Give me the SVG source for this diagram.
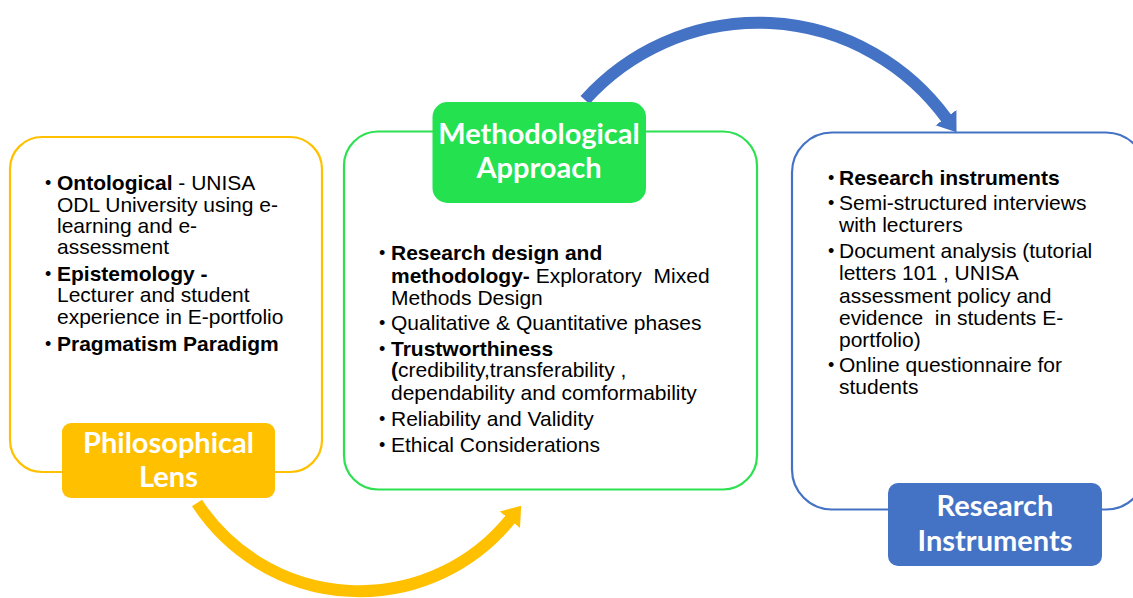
<svg xmlns="http://www.w3.org/2000/svg" width="1133" height="598" viewBox="0 0 1133 598">
<style>
  .body { font-family: "Liberation Sans", Arial, sans-serif; font-size: 21px; fill: #000; white-space: pre; }
  .bul { font-family: "Liberation Sans", Arial, sans-serif; font-size: 18px; fill: #000; }
  .b { font-weight: bold; }
  .lbl { font-family: Lato, "Open Sans", sans-serif; font-weight: bold; font-size: 29px; fill: #fff; text-anchor: middle; }
  .frame { fill: #fff; stroke-width: 2.2; }
  .arc { fill: none; stroke-width: 12; }
</style>
<defs>
  <marker id="headY" markerUnits="userSpaceOnUse" viewBox="0 -14 19 28" refX="1" refY="0" markerWidth="19" markerHeight="28" orient="auto">
    <path d="M0,-13 L18,0 L0,13 Z" fill="#FFC000"/>
  </marker>
  <marker id="headB" markerUnits="userSpaceOnUse" viewBox="0 -14 19 28" refX="1" refY="0" markerWidth="19" markerHeight="28" orient="auto">
    <path d="M0,-13 L18,0 L0,13 Z" fill="#4472C4"/>
  </marker>
</defs>
<rect width="1133" height="598" fill="#fff"/>

<g id="connectors">
  <path class="arc" stroke="#FFC000" d="M197,503 A194,194 0 0 0 510.5,519" marker-end="url(#headY)"/>
  <path class="arc" stroke="#4472C4" d="M585,100 A233,233 0 0 1 946.5,118.5" marker-end="url(#headB)"/>
</g>

<g id="philosophical-lens">
  <rect class="frame" x="10" y="137" width="312" height="335" rx="32" stroke="#FFC000"/>
  <text class="bul" x="45" y="189">•</text>
  <text class="body" x="57" y="190"><tspan class="b">Ontological</tspan> - UNISA</text>
  <text class="body" x="57" y="211.5">ODL University using e-</text>
  <text class="body" x="57" y="233">learning and e-</text>
  <text class="body" x="57" y="254">assessment</text>
  <text class="bul" x="45" y="279.5">•</text>
  <text class="body b" x="57" y="280.5">Epistemology -</text>
  <text class="body" x="57" y="302">Lecturer and student</text>
  <text class="body" x="57" y="324">experience in E-portfolio</text>
  <text class="bul" x="45" y="349.5">•</text>
  <text class="body b" x="57" y="350.5">Pragmatism Paradigm</text>
  <rect x="62" y="423" width="213" height="75" rx="9" fill="#FFC000"/>
  <text class="lbl" x="168.5" y="453">Philosophical</text>
  <text class="lbl" x="168.5" y="487">Lens</text>
</g>

<g id="methodological-approach">
  <rect class="frame" x="344" y="131.5" width="413" height="358" rx="34" stroke="#2CE150"/>
  <rect x="432.5" y="102" width="213.5" height="101" rx="15" fill="#23E14F"/>
  <text class="lbl" x="539" y="144">Methodological</text>
  <text class="lbl" x="539" y="178">Approach</text>
  <text class="bul" x="379" y="259">•</text>
  <text class="body b" x="391" y="260">Research design and</text>
  <text class="body" x="391" y="282.5"><tspan class="b">methodology-</tspan> Exploratory  Mixed</text>
  <text class="body" x="391" y="305">Methods Design</text>
  <text class="bul" x="379" y="329">•</text>
  <text class="body" x="391" y="330">Qualitative &amp; Quantitative phases</text>
  <text class="bul" x="379" y="354.5">•</text>
  <text class="body b" x="391" y="355.5">Trustworthiness</text>
  <text class="body" x="391" y="377"><tspan class="b">(</tspan>credibility,transferability ,</text>
  <text class="body" x="391" y="400">dependability and comformability</text>
  <text class="bul" x="379" y="425">•</text>
  <text class="body" x="391" y="426">Reliability and Validity</text>
  <text class="bul" x="379" y="450.5">•</text>
  <text class="body" x="391" y="451.5">Ethical Considerations</text>
</g>

<g id="research-instruments">
  <rect class="frame" x="792" y="132.5" width="354" height="377" rx="40" stroke="#4472C4"/>
  <text class="bul" x="828" y="184">•</text>
  <text class="body b" x="839" y="185">Research instruments</text>
  <text class="bul" x="828" y="209">•</text>
  <text class="body" x="839" y="210">Semi-structured interviews</text>
  <text class="body" x="839" y="231.5">with lecturers</text>
  <text class="bul" x="828" y="256.5">•</text>
  <text class="body" x="839" y="257.5">Document analysis (tutorial</text>
  <text class="body" x="839" y="280">letters 101 , UNISA</text>
  <text class="body" x="839" y="302.5">assessment policy and</text>
  <text class="body" x="839" y="324.5">evidence  in students E-</text>
  <text class="body" x="839" y="346.5">portfolio)</text>
  <text class="bul" x="828" y="370.5">•</text>
  <text class="body" x="839" y="371.5">Online questionnaire for</text>
  <text class="body" x="839" y="394">students</text>
  <rect x="888" y="483" width="214" height="83" rx="10" fill="#4472C4"/>
  <text class="lbl" x="995" y="516">Research</text>
  <text class="lbl" x="995" y="551">Instruments</text>
</g>
</svg>
